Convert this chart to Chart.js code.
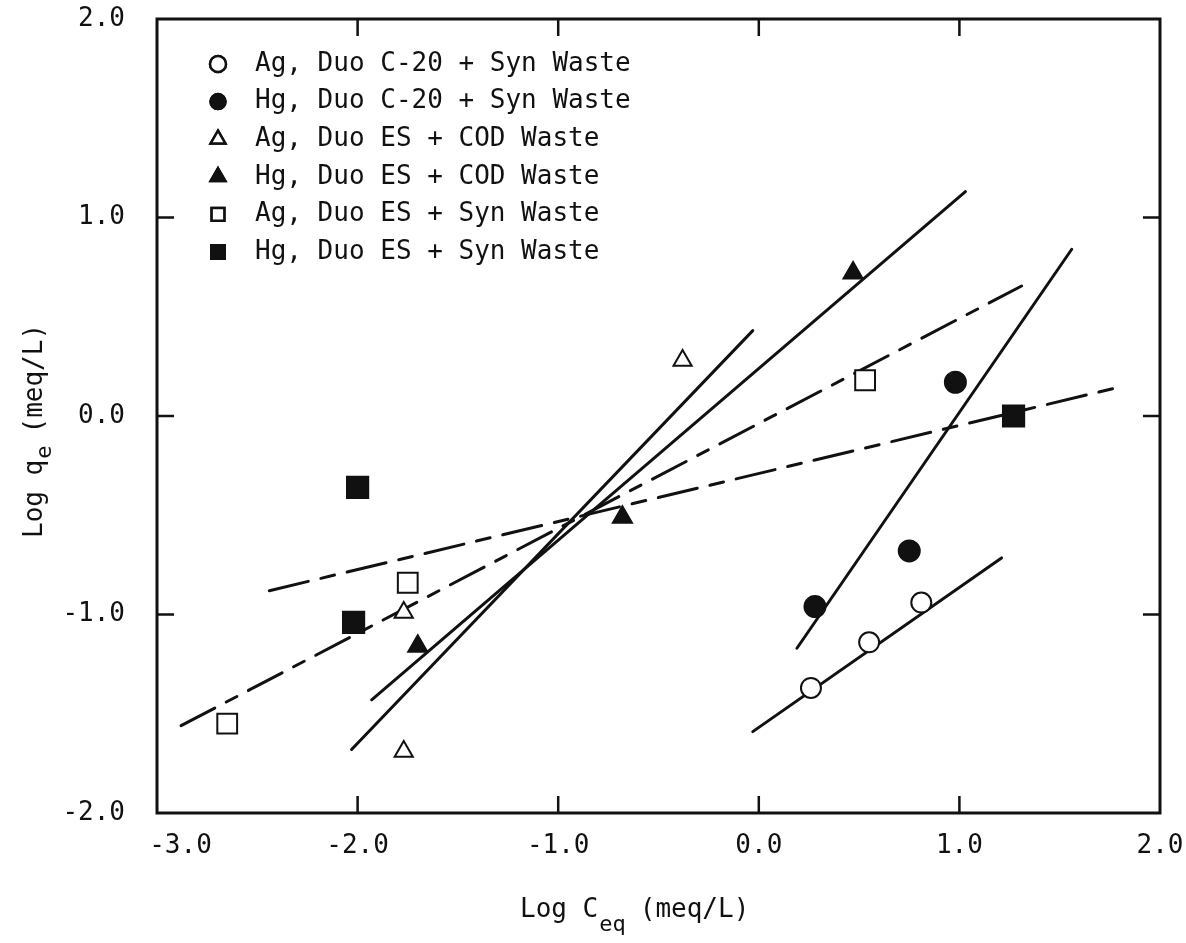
<!DOCTYPE html>
<html>
<head>
<meta charset="utf-8">
<title>Log qe vs Log Ceq</title>
<script src="https://cdn.jsdelivr.net/npm/chart.js@4.4.1/dist/chart.umd.min.js"></script>
<style>
  html, body { margin: 0; padding: 0; background: #fff; }
  #wrap { width: 1186px; height: 943px; position: relative; }
</style>
</head>
<body>
<div id="wrap"><canvas id="isotherm"></canvas></div>
<script>
const INK = "#111";
const FONT = "'DejaVu Sans Mono', 'Liberation Mono', monospace";

// axis ticks
const xTicks = [-3, -2, -1, 0, 1, 2];
const yTicks = [-2, -1, 0, 1, 2];

// legend text, in legend order
const seriesNames = [
  "Ag, Duo C-20 + Syn Waste",
  "Hg, Duo C-20 + Syn Waste",
  "Ag, Duo ES + COD Waste",
  "Hg, Duo ES + COD Waste",
  "Ag, Duo ES + Syn Waste",
  "Hg, Duo ES + Syn Waste"
];

// measured points: log Ceq (x), log qe (y)
const agC20SynX = [0.26, 0.55, 0.81];
const agC20SynY = [-1.37, -1.14, -0.94];
const hgC20SynX = [0.28, 0.75, 0.98];
const hgC20SynY = [-0.96, -0.68, 0.17];
const agEsCodX = [-1.77, -1.77, -0.38];
const agEsCodY = [-1.69, -0.99, 0.28];
const hgEsCodX = [-1.70, -0.68, 0.47];
const hgEsCodY = [-1.16, -0.51, 0.72];
const agEsSynX = [-2.65, -1.75, 0.53];
const agEsSynY = [-1.55, -0.84, 0.18];
const hgEsSynX = [-2.00, -2.02, 1.27];
const hgEsSynY = [-0.36, -1.04, 0.00];

// fitted isotherm lines (end points)
const fitAgC20SynX = [-0.03, 1.21];
const fitAgC20SynY = [-1.59, -0.715];
const fitHgC20SynX = [0.19, 1.56];
const fitHgC20SynY = [-1.17, 0.84];
const fitAgEsCodX = [-2.03, -0.03];
const fitAgEsCodY = [-1.68, 0.43];
const fitHgEsCodX = [-1.93, 1.03];
const fitHgEsCodY = [-1.43, 1.13];
const fitAgEsSynX = [-2.88, 1.31];
const fitAgEsSynY = [-1.56, 0.655];
const fitHgEsSynX = [-2.44, 1.80];
const fitHgEsSynY = [-0.88, 0.146];

const pts = (xs, ys) => xs.map((x, i) => ({ x, y: ys[i] }));

// marker look per series
const markers = [
  { style: "circle",   filled: false, r: 10 },
  { style: "circle",   filled: true,  r: 10.5 },
  { style: "triangle", filled: false, r: 10.5 },
  { style: "triangle", filled: true,  r: 11 },
  { style: "rect",     filled: false, r: 14 },
  { style: "rect",     filled: true,  r: 15 }
];

const pointSets = [
  pts(agC20SynX, agC20SynY), pts(hgC20SynX, hgC20SynY),
  pts(agEsCodX, agEsCodY),   pts(hgEsCodX, hgEsCodY),
  pts(agEsSynX, agEsSynY),   pts(hgEsSynX, hgEsSynY)
];

const fitSets = [
  { data: pts(fitAgC20SynX, fitAgC20SynY), dash: [] },
  { data: pts(fitHgC20SynX, fitHgC20SynY), dash: [] },
  { data: pts(fitAgEsCodX, fitAgEsCodY),   dash: [] },
  { data: pts(fitHgEsCodX, fitHgEsCodY),   dash: [] },
  { data: pts(fitAgEsSynX, fitAgEsSynY),   dash: [38, 13, 12, 13] },
  { data: pts(fitHgEsSynX, fitHgEsSynY),   dash: [40, 13, 14, 13] }
];

const datasets = [];
pointSets.forEach((d, i) => {
  const m = markers[i];
  datasets.push({
    label: seriesNames[i],
    data: d,
    showLine: false,
    pointStyle: m.style,
    pointRadius: m.r,
    pointHoverRadius: m.r,
    pointBorderWidth: 2,
    pointBorderColor: INK,
    pointBackgroundColor: m.filled ? INK : "#fff"
  });
});
fitSets.forEach((f, i) => {
  datasets.push({
    label: "fit " + (i + 1),
    data: f.data,
    showLine: true,
    fill: false,
    pointRadius: 0,
    borderColor: INK,
    borderWidth: 3,
    borderDash: f.dash,
    borderCapStyle: "round"
  });
});

// frame, inward ticks, legend and axis titles with subscripts
const paperPlugin = {
  id: "paper",
  afterDraw(chart) {
    const { ctx, chartArea: a, scales } = chart;
    ctx.save();
    ctx.strokeStyle = INK;
    ctx.fillStyle = INK;

    ctx.lineWidth = 3;
    ctx.strokeRect(a.left, a.top, a.right - a.left, a.bottom - a.top);

    const tl = 17;
    ctx.lineWidth = 2.5;
    ctx.beginPath();
    xTicks.slice(1, -1).forEach(v => {
      const px = scales.x.getPixelForValue(v);
      ctx.moveTo(px, a.bottom); ctx.lineTo(px, a.bottom - tl);
      ctx.moveTo(px, a.top);    ctx.lineTo(px, a.top + tl);
    });
    yTicks.slice(1, -1).forEach(v => {
      const py = scales.y.getPixelForValue(v);
      ctx.moveTo(a.left, py);  ctx.lineTo(a.left + tl, py);
      ctx.moveTo(a.right, py); ctx.lineTo(a.right - tl, py);
    });
    ctx.stroke();

    // legend
    ctx.font = "26px " + FONT;
    ctx.textBaseline = "middle";
    ctx.textAlign = "left";
    const legendSize = [8, 7.5, 8.5, 8.5, 9, 9.5];
    seriesNames.forEach((name, i) => {
      const y = 64 + i * 37.6;
      const m = markers[i];
      Chart.helpers.drawPoint(ctx, {
        pointStyle: m.style,
        radius: legendSize[i],
        borderWidth: 2,
        rotation: 0
      }, 218, y);
      ctx.fillStyle = m.filled ? INK : "#fff";
      ctx.fill();
      ctx.stroke();
      ctx.fillStyle = INK;
      ctx.fillText(name, 255, y);
    });

    // x title: Log C_eq (meq/L)
    ctx.textBaseline = "alphabetic";
    let x = 520;
    ctx.font = "26px " + FONT;
    ctx.fillText("Log C", x, 917);
    x += ctx.measureText("Log C").width + 1;
    ctx.font = "22px " + FONT;
    ctx.fillText("eq", x, 931);
    x += ctx.measureText("eq").width + 14;
    ctx.font = "26px " + FONT;
    ctx.fillText("(meq/L)", x, 917);

    // y title: Log q_e (meq/L), reading upward
    ctx.translate(42, 538);
    ctx.rotate(-Math.PI / 2);
    let s = 0;
    ctx.font = "26px " + FONT;
    ctx.fillText("Log q", s, 0);
    s += ctx.measureText("Log q").width + 1;
    ctx.font = "22px " + FONT;
    ctx.fillText("e", s, 9);
    s += ctx.measureText("e").width + 12;
    ctx.font = "26px " + FONT;
    ctx.fillText("(meq/L)", s, 0);

    ctx.restore();
  }
};

new Chart(document.getElementById("isotherm"), {
  type: "scatter",
  data: { datasets },
  options: {
    responsive: true,
    maintainAspectRatio: false,
    animation: false,
    events: [],
    layout: { padding: { left: 0, top: 19, right: 26, bottom: 0 } },
    plugins: { legend: { display: false }, tooltip: { enabled: false } },
    scales: {
      x: {
        type: "linear",
        min: -3,
        max: 2,
        afterBuildTicks: s => { s.ticks = xTicks.map(v => ({ value: v })); },
        // fixed axis band; edge labels fit inside the layout padding
        afterFit: s => { s.height = 130; s.paddingLeft = 0; s.paddingRight = 0; },
        grid: { display: false, drawTicks: false },
        border: { display: false },
        ticks: {
          padding: 18,
          color: INK,
          maxRotation: 0,
          autoSkip: false,
          font: { family: FONT, size: 26 },
          callback: v => (v === -3 ? "   -3.0" : v.toFixed(1))
        }
      },
      y: {
        type: "linear",
        min: -2,
        max: 2,
        afterBuildTicks: s => { s.ticks = yTicks.map(v => ({ value: v })); },
        afterFit: s => { s.width = 157; s.paddingTop = 0; s.paddingBottom = 0; },
        grid: { display: false, drawTicks: false },
        border: { display: false },
        ticks: {
          padding: 32,
          color: INK,
          autoSkip: false,
          font: { family: FONT, size: 26 },
          callback: v => v.toFixed(1)
        }
      }
    }
  },
  plugins: [paperPlugin]
});
</script>
</body>
</html>
